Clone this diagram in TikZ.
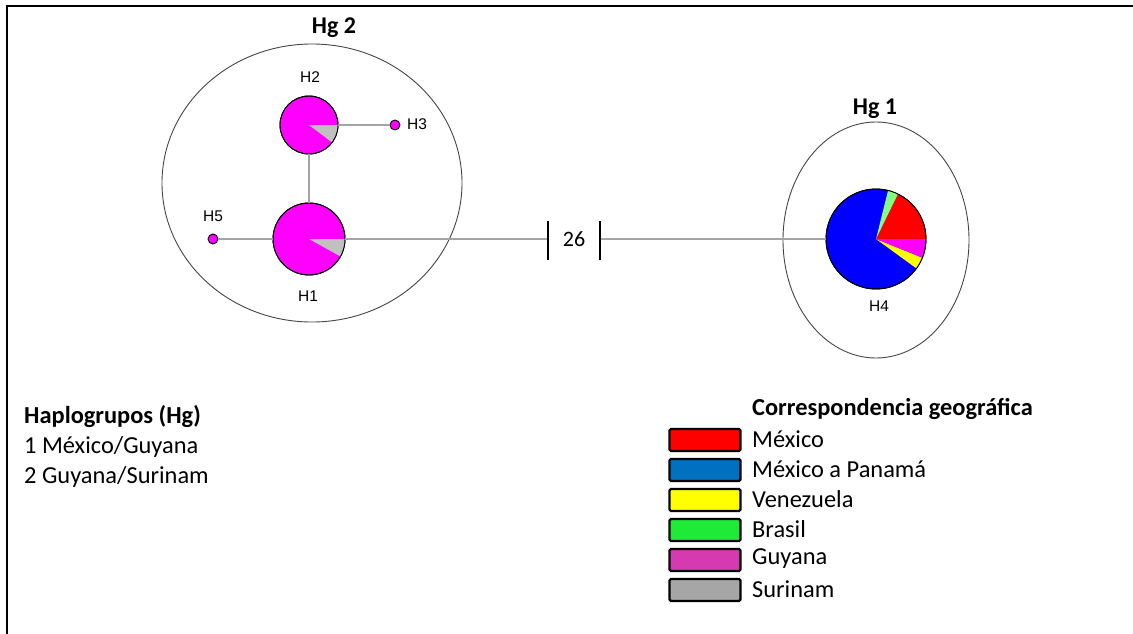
\documentclass[tikz,border=0pt]{standalone}
\usepackage{fontspec}
\setmainfont{Carlito}
\newfontfamily\labelfont{Liberation Sans}
\usetikzlibrary{shapes.geometric}

% pie colours
\definecolor{pieMag}{RGB}{255,0,255}
\definecolor{pieGray}{RGB}{192,192,192}
\definecolor{pieRed}{RGB}{255,0,0}
\definecolor{pieBlue}{RGB}{0,0,255}
\definecolor{pieGreen}{RGB}{128,255,128}
\definecolor{pieYellow}{RGB}{255,255,0}
% legend colours
\definecolor{legRed}{RGB}{255,0,0}
\definecolor{legBlue}{RGB}{0,112,192}
\definecolor{legYellow}{RGB}{255,255,0}
\definecolor{legGreen}{RGB}{30,235,55}
\definecolor{legMag}{RGB}{214,58,176}
\definecolor{legGray}{RGB}{166,166,166}
\definecolor{linkGray}{RGB}{165,165,165}
\definecolor{groupLine}{RGB}{70,70,70}

\tikzset{
  hap/.style={circle, draw=black, line width=0.9pt, fill=pieMag, inner sep=0pt},
  dotnode/.style={circle, draw=black, line width=0.9pt, fill=pieMag, inner sep=0pt, minimum size=10pt},
  link/.style={draw=linkGray, line width=1.7pt},
  tick/.style={draw=black, line width=1.4pt},
  group/.style={ellipse, draw=groupLine, line width=0.9pt, inner sep=0pt},
  hlabel/.style={font=\labelfont\fontsize{15.5}{18}\selectfont, inner sep=0pt},
  grouptitle/.style={font=\bfseries\fontsize{24}{28}\selectfont, inner sep=0pt},
  legtext/.style={font=\fontsize{24.4}{28}\selectfont, inner sep=0pt, anchor=west},
  legtitle/.style={font=\bfseries\fontsize{24.4}{28}\selectfont, inner sep=0pt, anchor=west},
  swatch/.style={draw=black, line width=2.2pt, rounded corners=1.5pt, minimum width=71pt, minimum height=22pt, inner sep=0pt}
}

\begin{document}
\begin{tikzpicture}[x=1pt, y=-1pt]
\useasboundingbox (0,0) rectangle (1133,634);

% frame
\draw[line width=1.8pt] (7,634) -- (7,6) -- (1133,6);

% haplogroup outlines
\node[group, minimum width=300pt, minimum height=278pt] (Hg2) at (312,183) {};
\node[group, minimum width=186pt, minimum height=236pt] (Hg1) at (876,240) {};
\node[grouptitle] (Hg2t) at (334,28) {Hg 2};
\node[grouptitle] (Hg1t) at (875,109) {Hg 1};

% haplotypes
\node[hap, minimum size=58pt] (H2) at (309,125) {};
\fill[pieGray] (H2.center) -- ++(0:29pt) arc[start angle=0, end angle=-37, radius=29pt] -- cycle;
\draw[line width=0.9pt] (H2.center) circle[radius=29pt];

\node[hap, minimum size=72pt] (H1) at (309,239) {};
\fill[pieGray] (H1.center) -- ++(0:36pt) arc[start angle=0, end angle=-29, radius=36pt] -- cycle;
\draw[line width=0.9pt] (H1.center) circle[radius=36pt];

\node[dotnode] (H3) at (395,125) {};
\node[dotnode] (H5) at (213,239) {};

\node[hap, minimum size=100pt, fill=pieBlue] (H4) at (876,239) {};
\fill[pieRed] (H4.center) -- ++(0:50pt) arc[start angle=0, end angle=64, radius=50pt] -- cycle;
\fill[pieGreen] (H4.center) -- ++(64:50pt) arc[start angle=64, end angle=76, radius=50pt] -- cycle;
\fill[pieYellow] (H4.center) -- ++(324:50pt) arc[start angle=324, end angle=338, radius=50pt] -- cycle;
\fill[pieMag] (H4.center) -- ++(338:50pt) arc[start angle=338, end angle=360, radius=50pt] -- cycle;
\draw[line width=0.9pt] (H4.center) circle[radius=50pt];

% haplotype labels
\node[hlabel] (H2l) at (310,77) {H2};
\node[hlabel, anchor=west] (H3l) at (407,124) {H3};
\node[hlabel] (H1l) at (308,296) {H1};
\node[hlabel] (H5l) at (213,216) {H5};
\node[hlabel] (H4l) at (879,306) {H4};

% connections
\coordinate (b1) at (548,239);
\coordinate (b2) at (600,239);
\path[link] (H2) -- (H3);
\path[link] (H2) -- (H1);
\path[link] (H5) -- (H1);
\path[link] (H1.east) -- (b1);
\path[link] (b2) -- (H4.west);
\path[tick] ([yshift=-21pt]b1) -- ([yshift=18pt]b1);
\path[tick] ([yshift=-21pt]b2) -- ([yshift=18pt]b2);
\node[font=\fontsize{22}{26}\selectfont, inner sep=0pt] (steps) at (574,239) {26};

% haplogroup key
\node[legtitle] (k0) at (24,417) {Haplogrupos (Hg)};
\node[legtext] (k1) at (24,447) {1 México/Guyana};
\node[legtext] (k2) at (24,477) {2 Guyana/Surinam};

% geographic key
\node[legtitle] (g0) at (752,409) {Correspondencia geográfica};
\node[swatch, fill=legRed] (s1) at (705,440) {};
\node[swatch, fill=legBlue] (s2) at (705,470) {};
\node[swatch, fill=legYellow] (s3) at (705,500) {};
\node[swatch, fill=legGreen] (s4) at (705,530) {};
\node[swatch, fill=legMag] (s5) at (705,560) {};
\node[swatch, fill=legGray] (s6) at (705,590) {};
\node[legtext] (t1) at (752,439) {México};
\node[legtext] (t2) at (752,469) {México a Panamá};
\node[legtext] (t3) at (752,499) {Venezuela};
\node[legtext] (t4) at (752,529) {Brasil};
\node[legtext] (t5) at (752,559) {Guyana};
\node[legtext] (t6) at (752,589) {Surinam};
\end{tikzpicture}
\end{document}
